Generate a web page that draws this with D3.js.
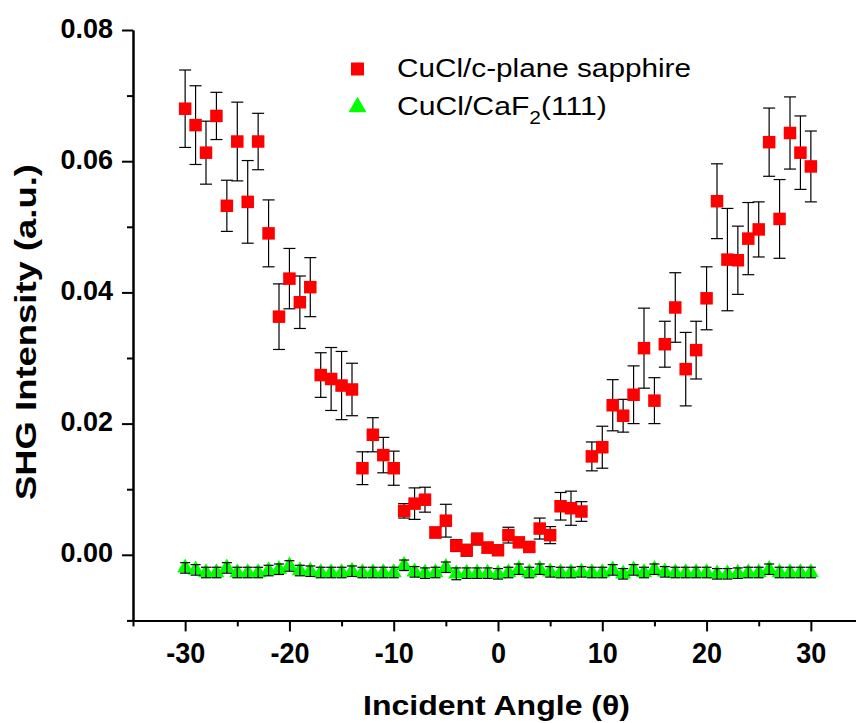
<!DOCTYPE html>
<html>
<head>
<meta charset="utf-8">
<script src="https://cdn.jsdelivr.net/npm/d3@7"></script>
<style>
  html, body { margin: 0; padding: 0; background: #fff; }
  svg { display: block; }
  text { font-family: "Liberation Sans", Arial, Helvetica, sans-serif; }
</style>
</head>
<body>
<svg id="chart" width="856" height="723"></svg>
<script>
// Incident angles (degrees)
const angles = [-30,-29,-28,-27,-26,-25,-24,-23,-22,-21,-20,-19,-18,-17,-16,-15,-14,-13,-12,-11,-10,
  -9,-8,-7,-6,-5,-4,-3,-2,-1,0,1,2,3,4,5,6,7,8,9,10,
  11,12,13,14,15,16,17,18,19,20,21,22,23,24,25,26,27,28,29,30];

// CuCl/c-plane sapphire: SHG intensity and error
const sapphireValues = [0.0680,0.0655,0.0613,0.0669,0.0532,0.0630,0.0538,0.0630,0.0490,0.0363,0.0421,
  0.0385,0.0408,0.0274,0.0268,0.0258,0.0252,0.0132,0.0183,0.0152,0.0132,
  0.0067,0.0078,0.0084,0.0034,0.0052,0.0014,0.0007,0.0024,0.0011,0.0007,
  0.0030,0.0019,0.0012,0.0040,0.0030,0.0074,0.0071,0.0066,0.0150,0.0164,
  0.0228,0.0212,0.0244,0.0315,0.0235,0.0321,0.0377,0.0283,0.0312,0.0391,
  0.0539,0.0450,0.0449,0.0482,0.0496,0.0629,0.0512,0.0643,0.0613,0.0592];
const sapphireErrors = [0.0059,0.0060,0.0048,0.0036,0.0039,0.0060,0.0063,0.0043,0.0051,0.0050,0.0046,
  0.0040,0.0045,0.0034,0.0048,0.0052,0.0040,0.0025,0.0026,0.0027,0.0026,
  0.0011,0.0024,0.0019,0.0008,0.0025,0.0009,0.0009,0.0009,0.0008,0.0008,
  0.0012,0.0006,0.0006,0.0016,0.0013,0.0021,0.0026,0.0015,0.0022,0.0032,
  0.0039,0.0025,0.0044,0.0061,0.0035,0.0035,0.0053,0.0056,0.0044,0.0048,
  0.0057,0.0078,0.0052,0.0055,0.0042,0.0052,0.0060,0.0055,0.0056,0.0054];

// CuCl/CaF2(111): SHG intensity and error
const caf2Values = [-0.0020,-0.0023,-0.0027,-0.0027,-0.0020,-0.0027,-0.0027,-0.0027,-0.0024,-0.0022,-0.0017,
  -0.0024,-0.0025,-0.0027,-0.0027,-0.0027,-0.0025,-0.0027,-0.0027,-0.0027,-0.0027,
  -0.0016,-0.0026,-0.0028,-0.0027,-0.0019,-0.0029,-0.0028,-0.0028,-0.0028,-0.0029,
  -0.0027,-0.0022,-0.0027,-0.0022,-0.0026,-0.0027,-0.0027,-0.0026,-0.0027,-0.0027,
  -0.0023,-0.0029,-0.0023,-0.0027,-0.0022,-0.0026,-0.0027,-0.0027,-0.0027,-0.0027,
  -0.0029,-0.0029,-0.0028,-0.0027,-0.0027,-0.0022,-0.0027,-0.0027,-0.0027,-0.0027];
const caf2Errors = [0.0008,0.0008,0.0008,0.0008,0.0008,0.0008,0.0008,0.0008,0.0008,0.0008,0.0008,
  0.0008,0.0008,0.0008,0.0008,0.0008,0.0008,0.0008,0.0008,0.0008,0.0008,
  0.0008,0.0008,0.0008,0.0008,0.0008,0.0009,0.0008,0.0008,0.0008,0.0008,
  0.0008,0.0008,0.0008,0.0008,0.0008,0.0008,0.0008,0.0008,0.0008,0.0008,
  0.0008,0.0008,0.0008,0.0008,0.0008,0.0008,0.0008,0.0008,0.0008,0.0008,
  0.0008,0.0008,0.0008,0.0008,0.0008,0.0008,0.0008,0.0008,0.0008,0.0008];

// Axis ticks
const xMajorTicks = [-30, -20, -10, 0, 10, 20, 30];
const xMinorTicks = [-35, -25, -15, -5, 5, 15, 25, 35];
const yMajorTicks = [0.00, 0.02, 0.04, 0.06, 0.08];
const yMinorTicks = [-0.01, 0.01, 0.03, 0.05, 0.07];

const seriesNames = ["CuCl/c-plane sapphire", "CuCl/CaF"];

const svg = d3.select("#chart");

const x = d3.scaleLinear().domain([-35, 35]).range([133, 863]);
const y = d3.scaleLinear().domain([-0.01, 0.08]).range([620.4, 30]);

// ---- axes ----
const yAxisG = svg.append("g").attr("transform", `translate(${x(-35)},0)`);
yAxisG.call(d3.axisLeft(y).tickValues(yMinorTicks).tickSize(6).tickSizeOuter(0).tickFormat(""));
yAxisG.append("g").call(d3.axisLeft(y).tickValues(yMajorTicks).tickSize(11).tickSizeOuter(0)
  .tickPadding(9).tickFormat(d3.format(".2f")));

const xAxisG = svg.append("g").attr("transform", `translate(0,${y(-0.01)})`);
xAxisG.call(d3.axisBottom(x).tickValues(xMinorTicks).tickSize(6).tickSizeOuter(0).tickFormat(""));
xAxisG.append("g").call(d3.axisBottom(x).tickValues(xMajorTicks).tickSize(11).tickSizeOuter(0)
  .tickPadding(10).tickFormat(d => String(d)));

svg.selectAll(".domain").attr("stroke", "#000").attr("stroke-width", 2);
svg.selectAll(".tick line").attr("stroke", "#000").attr("stroke-width", 2);
yAxisG.selectAll(".tick text").attr("font-size", 27).attr("font-weight", "bold")
  .attr("fill", "#000").attr("dy", "0.26em");
// x tick labels are a narrower, taller cut of the bold face
xAxisG.selectAll(".tick text").attr("font-size", 30).attr("font-weight", "bold")
  .attr("fill", "#000").attr("transform", "scale(0.9,1)");

// ---- axis titles ----
svg.append("text")
  .attr("x", 496.5).attr("y", 715)
  .attr("text-anchor", "middle")
  .attr("font-size", 28).attr("font-weight", "bold")
  .attr("textLength", 267).attr("lengthAdjust", "spacingAndGlyphs")
  .text("Incident Angle (θ)");

svg.append("text")
  .attr("transform", "translate(36,332) rotate(-90)")
  .attr("text-anchor", "middle")
  .attr("font-size", 29).attr("font-weight", "bold")
  .attr("textLength", 336).attr("lengthAdjust", "spacingAndGlyphs")
  .text("SHG Intensity (a.u.)");

// ---- data ----
const sapphire = angles.map((a, i) => ({ a, v: sapphireValues[i], e: sapphireErrors[i] }));
const caf2 = angles.map((a, i) => ({ a, v: caf2Values[i], e: caf2Errors[i] }));

function errorBars(g, data, cap) {
  const eb = g.selectAll("g.eb").data(data).join("g").attr("class", "eb")
    .attr("stroke", "#000").attr("stroke-width", 1.2);
  eb.append("line")
    .attr("x1", d => x(d.a)).attr("x2", d => x(d.a))
    .attr("y1", d => y(d.v + d.e)).attr("y2", d => y(d.v - d.e));
  eb.append("line")
    .attr("x1", d => x(d.a) - cap).attr("x2", d => x(d.a) + cap)
    .attr("y1", d => y(d.v + d.e)).attr("y2", d => y(d.v + d.e));
  eb.append("line")
    .attr("x1", d => x(d.a) - cap).attr("x2", d => x(d.a) + cap)
    .attr("y1", d => y(d.v - d.e)).attr("y2", d => y(d.v - d.e));
}

const sq = 12.5;
const gS = svg.append("g");
errorBars(gS, sapphire, 6);
gS.selectAll("rect.pt").data(sapphire).join("rect").attr("class", "pt")
  .attr("x", d => x(d.a) - sq / 2).attr("y", d => y(d.v) - sq / 2)
  .attr("width", sq).attr("height", sq).attr("fill", "#ff0000");

// triangle with its centroid on the data point
const triW = 16, triH = 14;
function triPath(cx, cy, w, h) {
  return `M${cx},${cy - 2 * h / 3}L${cx + w / 2},${cy + h / 3}L${cx - w / 2},${cy + h / 3}Z`;
}
const gC = svg.append("g");
gC.selectAll("path.pt").data(caf2).join("path").attr("class", "pt")
  .attr("d", d => triPath(x(d.a), y(d.v), triW, triH)).attr("fill", "#00ff00");
errorBars(gC, caf2, 5);

// ---- legend ----
const lg = svg.append("g");
lg.append("rect").attr("x", 351).attr("y", 62.5).attr("width", 13).attr("height", 13).attr("fill", "#ff0000");
lg.append("path").attr("d", triPath(357.5, 107, 18, 15.5)).attr("fill", "#00ff00");

lg.append("text").attr("x", 397).attr("y", 77)
  .attr("font-size", 26).attr("fill", "#000")
  .attr("textLength", 294).attr("lengthAdjust", "spacingAndGlyphs")
  .text(seriesNames[0]);

const t2 = lg.append("text").attr("transform", "translate(397,115) scale(1.16,1)")
  .attr("font-size", 26).attr("fill", "#000");
t2.append("tspan").text(seriesNames[1]);
t2.append("tspan").attr("font-size", 18).attr("dy", 9).text("2");
t2.append("tspan").attr("dy", -9).text("(111)");
</script>
</body>
</html>
